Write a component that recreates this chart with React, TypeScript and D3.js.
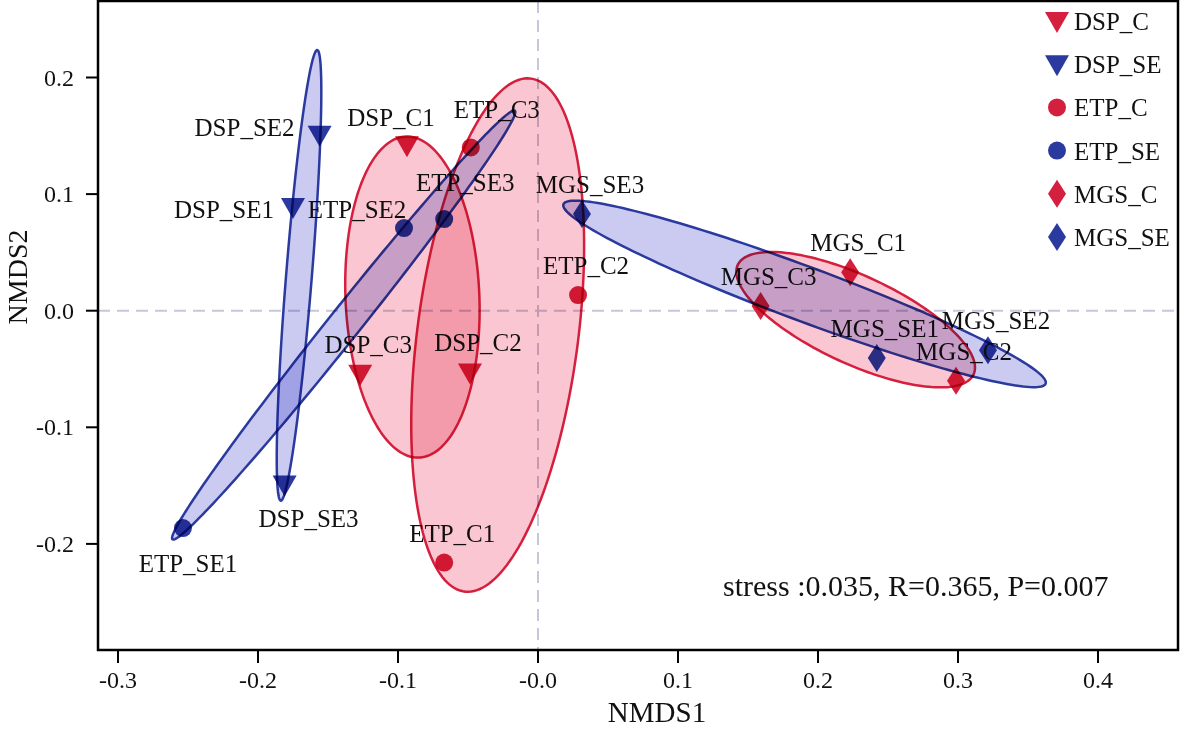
import React from 'react';
import * as d3 from 'd3';

// sample scores
const sampleNames = [
  'DSP_C1', 'DSP_C2', 'DSP_C3',
  'DSP_SE1', 'DSP_SE2', 'DSP_SE3',
  'ETP_C1', 'ETP_C2', 'ETP_C3',
  'ETP_SE1', 'ETP_SE2', 'ETP_SE3',
  'MGS_C1', 'MGS_C2', 'MGS_C3',
  'MGS_SE1', 'MGS_SE2', 'MGS_SE3',
];
const sampleGroups = [
  'DSP_C', 'DSP_C', 'DSP_C',
  'DSP_SE', 'DSP_SE', 'DSP_SE',
  'ETP_C', 'ETP_C', 'ETP_C',
  'ETP_SE', 'ETP_SE', 'ETP_SE',
  'MGS_C', 'MGS_C', 'MGS_C',
  'MGS_SE', 'MGS_SE', 'MGS_SE',
];
const nmds1 = [
  -0.0936, -0.0486, -0.127,
  -0.175, -0.156, -0.181,
  -0.067, 0.0286, -0.048,
  -0.2536, -0.0957, -0.067,
  0.223, 0.2986, 0.159,
  0.242, 0.3214, 0.0314,
];
const nmds2 = [
  0.142, -0.053, -0.054,
  0.089, 0.151, -0.149,
  -0.216, 0.0134, 0.140,
  -0.1864, 0.0709, 0.0786,
  0.033, -0.060, 0.004,
  -0.0406, -0.034, 0.083,
];

const groupNames = ['DSP_C', 'DSP_SE', 'ETP_C', 'ETP_SE', 'MGS_C', 'MGS_SE'];
const groupShapes = ['triangle', 'triangle', 'circle', 'circle', 'diamond', 'diamond'];
// ellipse centres and radii (in sd units)
const ellipseCentreX = [-0.0897, -0.1707, -0.0288, -0.1388, 0.2269, 0.1904];
const ellipseCentreY = [0.0117, 0.0303, -0.0209, -0.0123, -0.0077, 0.0144];
const ellipseRadius = [1.22, 1.22, 1.22, 1.22, 1.22, 1.15];

const xTicks = [-0.3, -0.2, -0.1, 0, 0.1, 0.2, 0.3, 0.4];
const xTickLabels = ['-0.3', '-0.2', '-0.1', '-0.0', '0.1', '0.2', '0.3', '0.4'];
const yTicks = [-0.2, -0.1, 0, 0.1, 0.2];
const yTickLabels = ['-0.2', '-0.1', '0.0', '0.1', '0.2'];
const statsText = 'stress :0.035, R=0.365, P=0.007';

// label nudges in px (text anchor middle, baseline)
const labelNudge: Record<string, [number, number]> = {
  DSP_SE2: [-75, 1],
  DSP_SE1: [-69, 11],
  DSP_C1: [-16, -19],
  ETP_C3: [26, -29],
  ETP_SE3: [21, -28],
  ETP_SE2: [-47, -10],
  DSP_SE3: [24, 43],
  ETP_SE1: [5, 44],
};
const defaultNudge: [number, number] = [8, -21];

const RED = '#D51F3E';
const BLUE = '#2B3A9F';
const FONT = '"Liberation Serif", "Times New Roman", Times, serif';

const W = 1181;
const H = 730;
const left = 98, right = 1178, top = 1, bottom = 650;

const x = d3.scaleLinear().domain([0, 0.1]).range([538, 678]);
const y = d3.scaleLinear().domain([0, 0.1]).range([310.7, 194.1]);

function colorOf(g: string) {
  return g.endsWith('_SE') ? BLUE : RED;
}

function Marker({ shape, cx, cy, fill }: { shape: string; cx: number; cy: number; fill: string }) {
  if (shape === 'circle') return <circle cx={cx} cy={cy} r={9} fill={fill} />;
  if (shape === 'diamond') {
    return <path d={`M${cx},${cy - 14}L${cx + 9},${cy}L${cx},${cy + 14}L${cx - 9},${cy}Z`} fill={fill} />;
  }
  return <path d={`M${cx - 12},${cy - 9}L${cx + 12},${cy - 9}L${cx},${cy + 12}Z`} fill={fill} />;
}

function ellipsePath(gi: number) {
  const g = groupNames[gi];
  const idx = sampleGroups.map((s, i) => (s === g ? i : -1)).filter((i) => i >= 0);
  const xs = idx.map((i) => nmds1[i]);
  const ys = idx.map((i) => nmds2[i]);
  const mx = d3.mean(xs)!;
  const my = d3.mean(ys)!;
  const n = xs.length;
  let sxx = 0, syy = 0, sxy = 0;
  for (let k = 0; k < n; k++) {
    sxx += (xs[k] - mx) ** 2;
    syy += (ys[k] - my) ** 2;
    sxy += (xs[k] - mx) * (ys[k] - my);
  }
  sxx /= n - 1; syy /= n - 1; sxy /= n - 1;
  const tr = sxx + syy;
  const det = sxx * syy - sxy * sxy;
  const disc = Math.sqrt(Math.max(0, tr * tr / 4 - det));
  const l1 = tr / 2 + disc;
  const l2 = Math.max(0, tr / 2 - disc);
  const theta = Math.abs(sxy) < 1e-12 ? (sxx >= syy ? 0 : Math.PI / 2) : Math.atan2(l1 - sxx, sxy);
  const a = ellipseRadius[gi] * Math.sqrt(l1);
  const b = ellipseRadius[gi] * Math.sqrt(l2);
  const cx = ellipseCentreX[gi], cy = ellipseCentreY[gi];
  const pts = d3.range(0, 360, 2).map((deg) => {
    const t = (deg * Math.PI) / 180;
    const ex = a * Math.cos(t), ey = b * Math.sin(t);
    return [
      x(cx + ex * Math.cos(theta) - ey * Math.sin(theta)),
      y(cy + ex * Math.sin(theta) + ey * Math.cos(theta)),
    ] as [number, number];
  });
  return d3.line().curve(d3.curveLinearClosed)(pts) || '';
}

export default function App() {
  return (
    <svg width={W} height={H} style={{ position: 'absolute', left: 0, top: 0, background: '#fff' }} fontFamily={FONT}>
      <rect x={0} y={0} width={W} height={H} fill="#fff" />
      {/* reference lines */}
      <line x1={x(0)} x2={x(0)} y1={top} y2={bottom} stroke="#C8C6DA" strokeWidth={2} strokeDasharray="12 7" />
      <line x1={left} x2={right} y1={y(0)} y2={y(0)} stroke="#C8C6DA" strokeWidth={2} strokeDasharray="12 7" />

      {/* points */}
      {sampleNames.map((name, i) => {
        const g = sampleGroups[i];
        return (
          <Marker key={name} shape={groupShapes[groupNames.indexOf(g)]} cx={x(nmds1[i])} cy={y(nmds2[i])} fill={colorOf(g)} />
        );
      })}

      {/* labels */}
      {sampleNames.map((name, i) => {
        const [dx, dy] = labelNudge[name] || defaultNudge;
        return (
          <text key={name} x={x(nmds1[i]) + dx} y={y(nmds2[i]) + dy} textAnchor="middle" fontSize={25} fill="#111">
            {name}
          </text>
        );
      })}

      {/* ellipses */}
      {groupNames.map((g, gi) => {
        const se = g.endsWith('_SE');
        return (
          <path
            key={g}
            d={ellipsePath(gi)}
            fill={se ? '#CBCBF2' : '#F9C6D1'}
            stroke={colorOf(g)}
            strokeWidth={2.5}
            style={{ mixBlendMode: 'multiply' }}
          />
        );
      })}

      {/* frame */}
      <rect x={left} y={top} width={right - left} height={bottom - top} fill="none" stroke="#000" strokeWidth={2.5} />

      {/* x axis */}
      {xTicks.map((t, i) => (
        <g key={'x' + t}>
          <line x1={x(t)} x2={x(t)} y1={bottom} y2={bottom + 13} stroke="#000" strokeWidth={2} />
          <text x={x(t)} y={bottom + 38} textAnchor="middle" fontSize={24} fill="#111">{xTickLabels[i]}</text>
        </g>
      ))}
      {/* y axis */}
      {yTicks.map((t, i) => (
        <g key={'y' + t}>
          <line x1={left - 12} x2={left} y1={y(t)} y2={y(t)} stroke="#000" strokeWidth={2} />
          <text x={left - 24} y={y(t) + 8} textAnchor="end" fontSize={24} fill="#111">{yTickLabels[i]}</text>
        </g>
      ))}

      <text x={657} y={722} textAnchor="middle" fontSize={29} fill="#111">NMDS1</text>
      <text transform="translate(27,277) rotate(-90)" textAnchor="middle" fontSize={28} fill="#111">NMDS2</text>

      <text x={723} y={596} fontSize={30} fill="#111">{statsText}</text>

      {/* legend */}
      {groupNames.map((g, i) => {
        const cy = 21 + i * 43.2;
        return (
          <g key={'leg' + g}>
            <Marker shape={groupShapes[i]} cx={1057} cy={cy} fill={colorOf(g)} />
            <text x={1074} y={cy + 9} fontSize={25} fill="#111">{g}</text>
          </g>
        );
      })}
    </svg>
  );
}
